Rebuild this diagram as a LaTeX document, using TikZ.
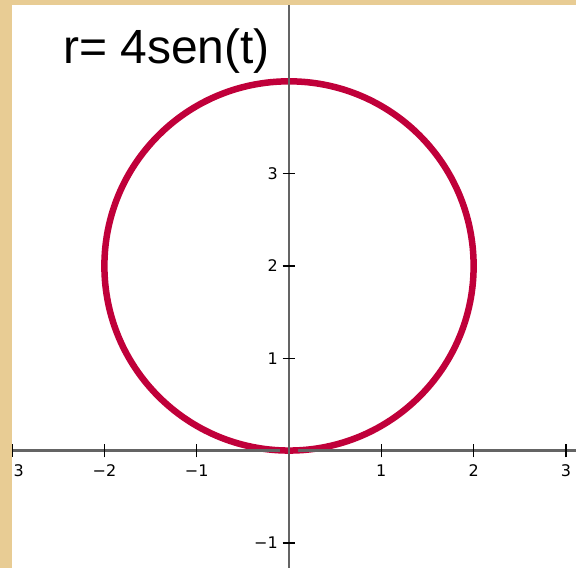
\documentclass[tikz,border=0pt]{standalone}
\usepackage{fontspec}
\setmainfont{Liberation Sans}
\newfontfamily\tickfont{DejaVu Sans}
\usetikzlibrary{positioning}
\definecolor{parchment}{RGB}{232,204,148}
\definecolor{curvered}{RGB}{192,0,58}
\definecolor{axisgray}{RGB}{100,100,100}

\begin{document}
\begin{tikzpicture}[
  x=92.3pt, y=92.3pt,
  axis/.style={line width=2.4pt, draw=axisgray},
  tick/.style={line width=1.3pt, draw=black},
  xlab/.style={font=\fontsize{16}{16}\tickfont, inner sep=0pt},
  ylab/.style={font=\fontsize{16}{16}\tickfont, inner sep=0pt, anchor=east},
  curve/.style={line width=6.5pt, draw=curvered},
  title/.style={font=\fontsize{48}{48}\selectfont, inner sep=0pt, anchor=base west}
]

%% frame
\fill[parchment] (-3.131,-1.268) rectangle (3.109,4.881);
\fill[white] (-3,-1.268) rectangle (3.109,4.827);
\useasboundingbox (-3.131,-1.268) rectangle (3.109,4.881);

\begin{scope}
\clip (-3,-1.268) rectangle (3.109,4.827);

%% r = 4 sin t
\draw[curve] (0,2) circle (2);

%% axes
\draw[axis] (-3,0) -- (-0.1,0);
\draw[axis] (0.1,0) -- (3.109,0);
\draw[axis] (0,-1.268) -- (0,4.827);

%% ticks
\foreach \t in {-3,-2,-1,1,2,3} \draw[tick] (\t,-0.075) -- (\t,0.075);
\foreach \t in {-1,1,2,3} \draw[tick] (-0.07,\t) -- (0.07,\t);

%% tick labels
\node[xlab] (xm3) at (-3,-0.22) {−3};
\node[xlab] (xm2) at (-2,-0.22) {−2};
\node[xlab] (xm1) at (-1,-0.22) {−1};
\node[xlab] (xp1) at (1,-0.22) {1};
\node[xlab] (xp2) at (2,-0.22) {2};
\node[xlab] (xp3) at (3,-0.22) {3};
\node[ylab] (ym1) at (-0.12,-1) {−1};
\node[ylab] (yp1) at (-0.12,1) {1};
\node[ylab] (yp2) at (-0.12,2) {2};
\node[ylab] (yp3) at (-0.12,3) {3};
\end{scope}

%% title
\node[title] (eq) at (-2.449,4.198) {r= 4sen(t)};
\end{tikzpicture}
\end{document}
